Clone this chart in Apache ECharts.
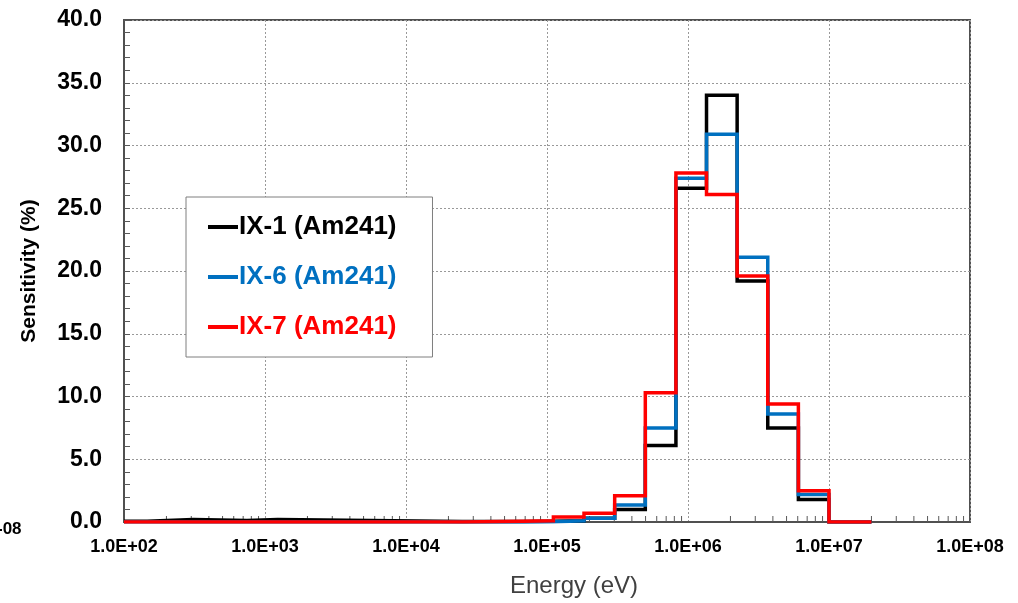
<!DOCTYPE html>
<html>
<head>
<meta charset="utf-8">
<script src="https://cdn.jsdelivr.net/npm/echarts@6/dist/echarts.min.js"></script>
<style>
  html, body { margin: 0; padding: 0; background: #fff; }
  #chart { width: 1018px; height: 603px; }
</style>
</head>
<body>
<div id="chart"></div>
<script>
// bin edges (eV), one more than the values per series
const edges = [100, 146, 310, 745, 1230, 5560, 25000, 67400, 111000, 183000, 302000,
  498000, 821000, 1353000, 2231000, 3679000, 6065000, 10000000, 20000000]
const ix1 = [0.05, 0.2, 0.12, 0.2, 0.12, 0.03, 0.03, 0.05, 0.1, 0.3, 1.0, 6.1, 26.6, 34.0, 19.2, 7.5, 1.8, 0]
const ix6 = [0, 0, 0, 0, 0, 0, 0, 0.02, 0.1, 0.3, 1.35, 7.5, 27.4, 30.9, 21.1, 8.6, 2.2, 0]
const ix7 = [0, 0, 0, 0, 0, 0, 0.05, 0.1, 0.4, 0.7, 2.1, 10.3, 27.8, 26.1, 19.6, 9.4, 2.5, 0]
const seriesNames = ['IX-1 (Am241)', 'IX-6 (Am241)', 'IX-7 (Am241)']
const seriesColors = ['#000000', '#0070c0', '#ff0000']
const yTicks = { min: 0, max: 40, interval: 5 }
const minorX = []
for (let k = 2; k < 8; k++) {
  for (let m = 2; m < 10; m++) minorX.push(m * Math.pow(10, k))
}

function steps(vals) {
  const pts = vals.map((v, i) => [edges[i], v])
  pts.push([edges[edges.length - 1], 0])
  return pts
}

const chart = echarts.init(document.getElementById('chart'))
const lines = [ix1, ix6, ix7].map((vals, i) => ({
  name: seriesNames[i],
  type: 'line',
  step: 'end',
  symbol: 'none',
  z: 3 + i,
  lineStyle: { width: 3.5, color: seriesColors[i], join: 'miter' },
  itemStyle: { color: seriesColors[i] },
  data: steps(vals)
}))

chart.setOption({
  animation: false,
  backgroundColor: '#ffffff',
  textStyle: { fontFamily: 'Liberation Sans, Arial, sans-serif' },
  grid: {
    left: 124, right: 48, top: 20, bottom: 80,
    show: true, borderColor: '#505050', borderWidth: 2, backgroundColor: 'transparent'
  },
  legend: {
    orient: 'vertical',
    left: 186, top: 197,
    padding: [17, 36, 17, 22],
    itemGap: 24,
    itemWidth: 30,
    itemHeight: 4,
    icon: 'rect',
    backgroundColor: '#ffffff',
    borderColor: '#7f7f7f',
    borderWidth: 1,
    textStyle: { fontSize: 26, fontWeight: 'bold', padding: [0, 0, 0, -4] },
    data: seriesNames.map((n, i) => ({ name: n, textStyle: { color: seriesColors[i] } }))
  },
  xAxis: {
    type: 'log',
    logBase: 10,
    min: 100,
    max: 100000000,
    name: 'Energy (eV)',
    nameLocation: 'middle',
    nameGap: 52,
    nameTextStyle: { fontSize: 24, color: '#404040', padding: [0, 0, 0, 54] },
    axisLine: { show: true, lineStyle: { color: '#505050', width: 2 } },
    axisTick: { show: false },
    axisLabel: {
      fontSize: 18, fontWeight: 'bold', color: '#000', margin: 16,
      formatter: v => '1.0E+' + String(Math.round(Math.log10(v))).padStart(2, '0')
    },
    splitLine: { show: true, lineStyle: { color: '#999', type: [2, 2], width: 1 } },
    minorTick: { show: false }
  },
  yAxis: {
    type: 'value',
    min: yTicks.min,
    max: yTicks.max,
    interval: yTicks.interval,
    name: 'Sensitivity (%)',
    nameLocation: 'middle',
    nameGap: 84,
    nameTextStyle: { fontSize: 21, fontWeight: 'bold', color: '#000' },
    axisLine: { show: true, lineStyle: { color: '#505050', width: 2 } },
    axisTick: { show: true, inside: true, length: 6, lineStyle: { color: '#595959' } },
    minorTick: { show: true, splitNumber: 5, length: 6, lineStyle: { color: '#595959' } },
    axisLabel: {
      fontSize: 23, fontWeight: 'bold', color: '#000', margin: 22,
      formatter: v => v.toFixed(1)
    },
    splitLine: { show: true, lineStyle: { color: '#999', type: [2, 2], width: 1 } }
  },
  graphic: [{
    type: 'text', left: -38, top: 521,
    style: { text: '1.0E-08', fontSize: 17, fontWeight: 'bold', fill: '#000',
      fontFamily: 'Liberation Sans, Arial, sans-serif' }
  }],
  series: [{
    type: 'custom',
    silent: true,
    z: 1,
    data: minorX,
    renderItem: (params, api) => {
      const p = api.coord([api.value(0), 0])
      return {
        type: 'line',
        shape: { x1: p[0], y1: p[1], x2: p[0], y2: p[1] - 6 },
        style: { stroke: '#595959', lineWidth: 1 }
      }
    },
    encode: { x: 0 }
  }].concat(lines)
})
</script>
</body>
</html>
